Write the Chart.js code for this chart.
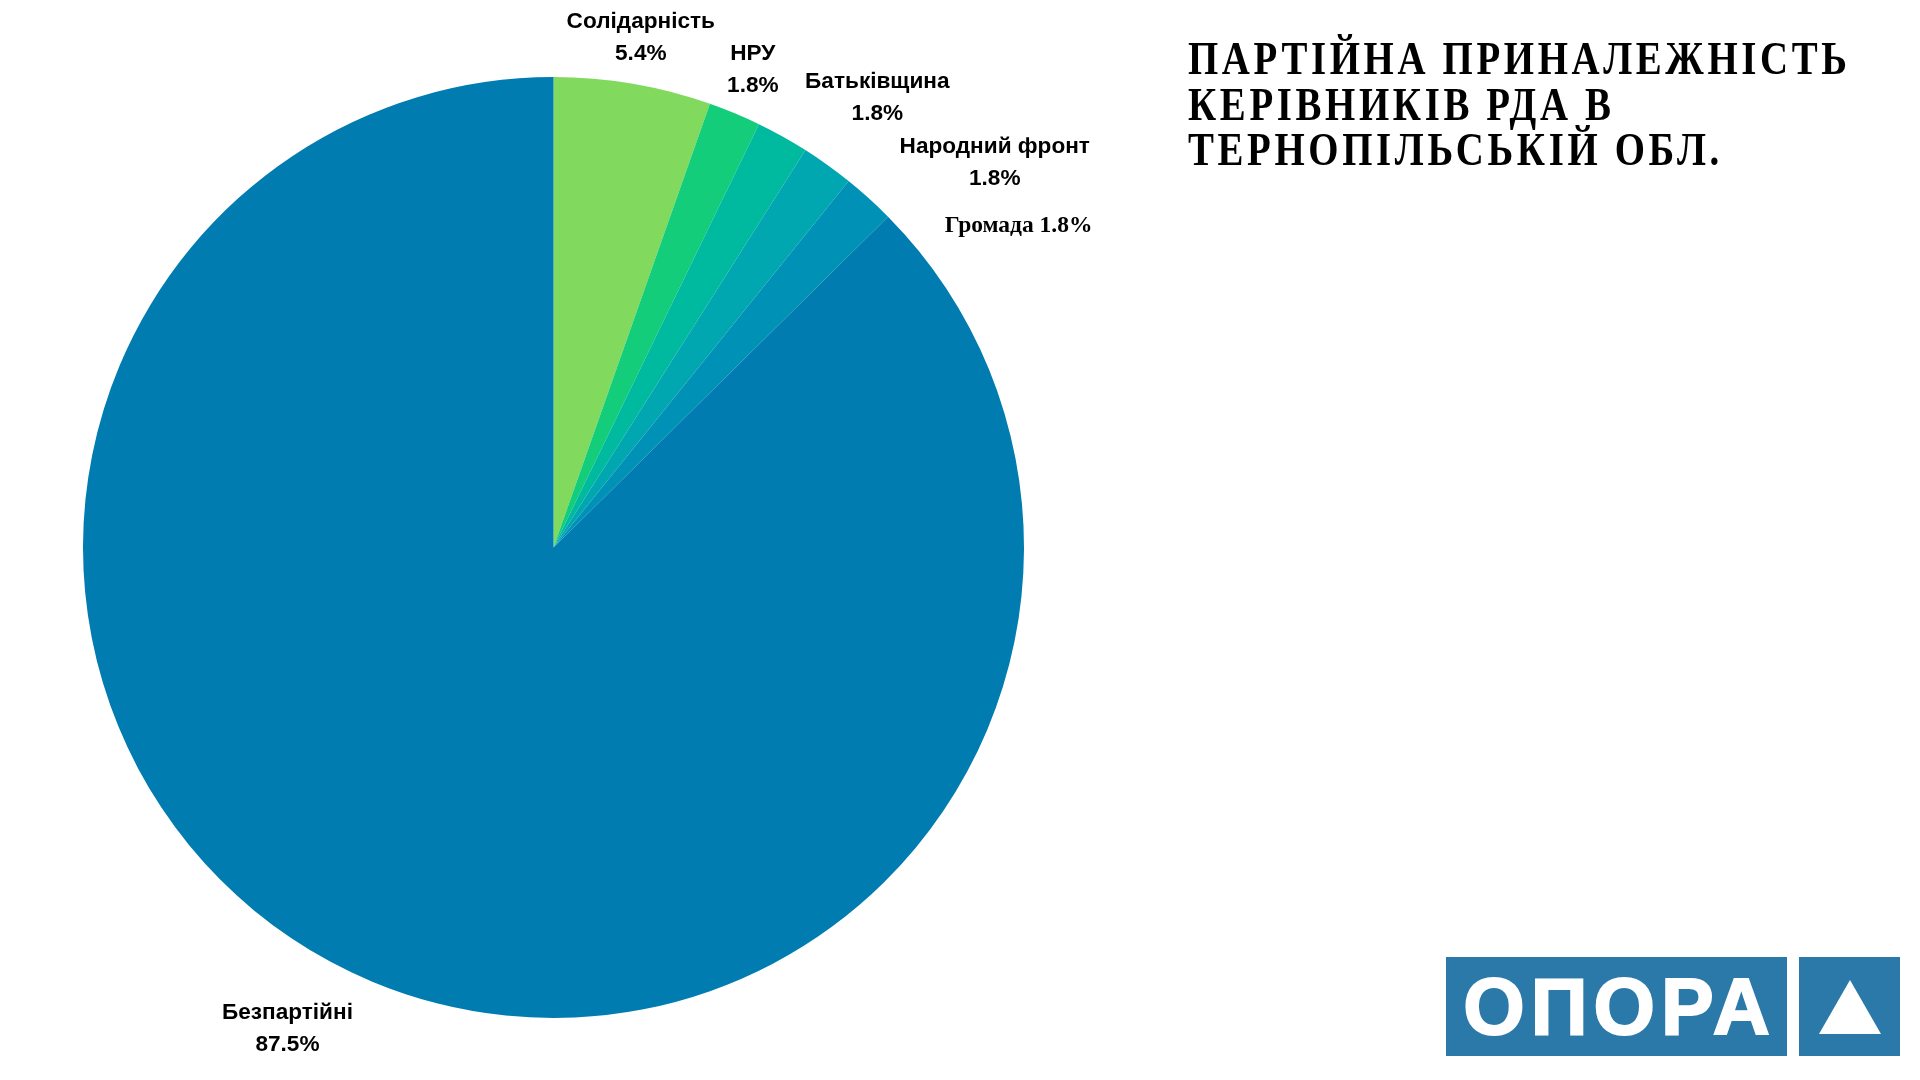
<!DOCTYPE html>
<html lang="uk">
<head>
<meta charset="utf-8">
<title>Партійна приналежність керівників РДА в Тернопільській обл.</title>
<script src="https://cdn.jsdelivr.net/npm/chart.js@4.4.0/dist/chart.umd.min.js"></script>
<style>
    html, body { margin: 0; padding: 0; background: #fff; }
    #wrap { position: relative; width: 1920px; height: 1080px; overflow: hidden; }
    #pieChart { position: absolute; left: 0; top: 0; }
    #title {
        position: absolute; left: 1188px; top: 36px;
        font-family: "Liberation Serif", serif; font-weight: bold;
        font-size: 46px; line-height: 45.5px; letter-spacing: 4.3px;
        color: #000; white-space: nowrap;
        transform: scaleX(0.845); transform-origin: 0 0;
    }
    .logo-box { position: absolute; background: #2a79a9; top: 957px; height: 99px; }
    #logoText {
        left: 1446px; width: 341px;
        color: #fff; font-family: "Liberation Sans", Arial, sans-serif; font-weight: bold;
        font-size: 79px; line-height: 99px; text-align: center;
        letter-spacing: 6px; text-indent: 6px;
        -webkit-text-stroke: 2px #fff;
    }
    #logoMark { left: 1799px; width: 101px; }
</style>
</head>
<body>
<div id="wrap">
    <canvas id="pieChart" width="1920" height="1080"></canvas>
    <div id="title">ПАРТІЙНА ПРИНАЛЕЖНІСТЬ<br>КЕРІВНИКІВ РДА В<br>ТЕРНОПІЛЬСЬКІЙ ОБЛ.</div>
    <div class="logo-box" id="logoText">ОПОРА</div>
    <div class="logo-box" id="logoMark">
        <svg width="101" height="99" viewBox="0 0 101 99">
            <polygon points="51,23 20,77 82,77" fill="#fff"/>
        </svg>
    </div>
</div>
<script>
// Party shares, clockwise from 12 o'clock
const categories = ['Солідарність', 'НРУ', 'Батьківщина', 'Народний фронт', 'Громада', 'Безпартійні'];
const shares = [5.4, 1.8, 1.8, 1.8, 1.8, 87.5];
const sliceColors = ['#81d95d', '#14cd7b', '#00baa0', '#00a6b0', '#0092b6', '#007cb0'];

// Label placement: extra angle (deg, clockwise) and distance beyond the rim
const labelAngleShift = [0, 0, 6.6, 13.3, 13.25, 6.3];
const labelGap = [47, 47, 84, 115, 95, 79];
const oneLineLabel = [false, false, false, false, true, false];

// Draw the outside labels
const outsideLabels = {
    id: 'outsideLabels',
    afterDatasetsDraw(chart) {
        const ctx = chart.ctx;
        const meta = chart.getDatasetMeta(0);
        ctx.save();
        ctx.fillStyle = '#000';
        ctx.textAlign = 'center';
        ctx.textBaseline = 'middle';
        meta.data.forEach((arc, i) => {
            const p = arc.getProps(['x', 'y', 'startAngle', 'endAngle', 'outerRadius'], true);
            const angle = (p.startAngle + p.endAngle) / 2 + labelAngleShift[i] * Math.PI / 180;
            const dist = p.outerRadius + labelGap[i];
            const lx = p.x + Math.cos(angle) * dist;
            const ly = p.y + Math.sin(angle) * dist;
            const pct = shares[i].toFixed(1) + '%';
            if (oneLineLabel[i]) {
                ctx.font = 'bold 23.5px "Liberation Serif", serif';
                ctx.fillText(categories[i] + ' ' + pct, lx, ly);
            } else {
                ctx.font = 'bold 22.6px "Liberation Sans", Arial, sans-serif';
                ctx.fillText(categories[i], lx, ly - 16);
                ctx.fillText(pct, lx, ly + 16);
            }
        });
        ctx.restore();
    }
};

function initializePieChart() {
    const ctx = document.getElementById('pieChart');
    if (!ctx) return;

    new Chart(ctx, {
        type: 'pie',
        data: {
            labels: categories,
            datasets: [{
                data: shares,
                backgroundColor: sliceColors,
                borderWidth: 0
            }]
        },
        options: {
            responsive: false,
            animation: false,
            devicePixelRatio: 1,
            layout: {
                padding: { left: 83, top: 77, right: 896, bottom: 62 }
            },
            plugins: {
                legend: { display: false },
                tooltip: { enabled: false }
            }
        },
        plugins: [outsideLabels]
    });
}

initializePieChart();
</script>
</body>
</html>
